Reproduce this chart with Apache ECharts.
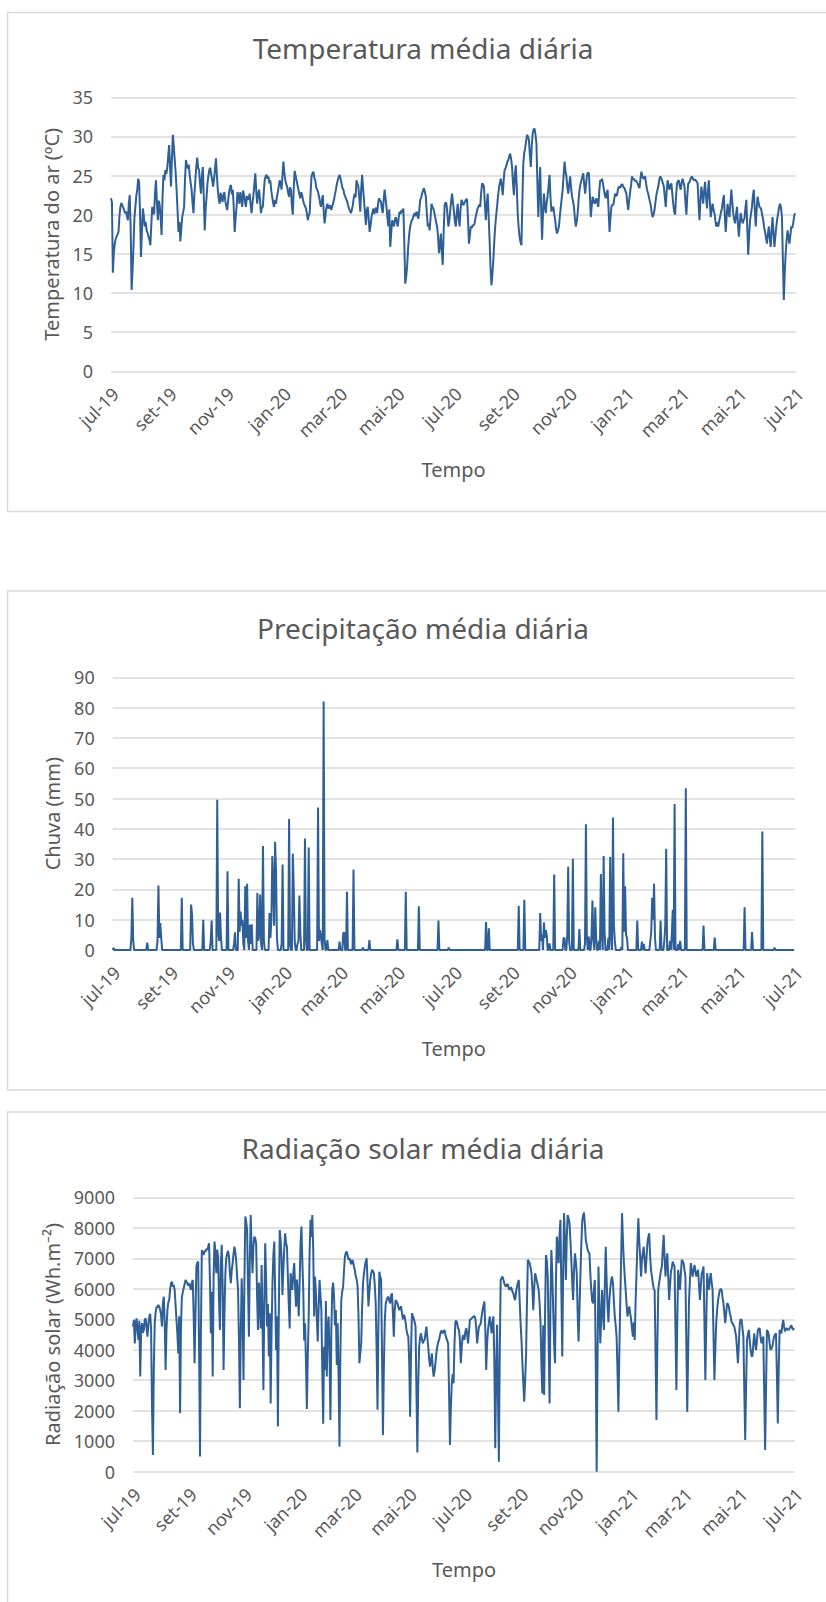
<!DOCTYPE html>
<html>
<head>
<meta charset="utf-8">
<title>Temperatura, precipitação e radiação solar médias diárias</title>
<script src="https://cdn.jsdelivr.net/npm/echarts@6/dist/echarts.min.js"></script>
<style>
  html, body { margin: 0; padding: 0; background: #ffffff; }
  #chart { width: 826px; height: 1602px; }
</style>
</head>
<body>
<div id="chart"></div>
<script>
// Axis ticks: one label every two months
const tickDates = ['2019-07-01', '2019-09-01', '2019-11-01', '2020-01-01', '2020-03-01', '2020-05-01',
  '2020-07-01', '2020-09-01', '2020-11-01', '2021-01-01', '2021-03-01', '2021-05-01', '2021-07-01'];
const tickLabels = ['jul-19', 'set-19', 'nov-19', 'jan-20', 'mar-20', 'mai-20',
  'jul-20', 'set-20', 'nov-20', 'jan-21', 'mar-21', 'mai-21', 'jul-21'];

// First day of every daily series
const firstDay = '2019-07-01';

// Daily mean air temperature (ºC), 2019-07-01 .. 2021-07-01
const temperature = [
  22.1, 21.6, 12.6, 15.1, 16.3, 16.9, 17.2, 17.5, 17.8, 19.8, 21.0, 21.5, 21.2, 20.9, 20.6, 20.2, 20.4, 19.9, 19.3, 21.4,
  22.5, 18.2, 10.4, 12.9, 16.0, 19.6, 21.0, 22.4, 23.2, 24.6, 24.2, 20.1, 14.6, 17.9, 20.8, 19.9, 18.5, 19.1, 18.0, 17.7,
  17.2, 16.8, 16.1, 18.7, 21.0, 20.1, 20.2, 22.8, 24.4, 21.6, 19.3, 21.8, 21.2, 19.6, 17.4, 22.3, 25.1, 24.4, 25.7, 25.2,
  25.9, 27.4, 28.9, 26.2, 23.6, 27.1, 30.2, 28.8, 27.0, 25.4, 23.2, 20.6, 17.8, 19.1, 16.6, 18.2, 19.7, 20.3, 21.0, 24.6,
  27.0, 26.3, 25.9, 26.4, 25.0, 24.1, 23.2, 21.5, 20.2, 22.6, 24.4, 26.1, 27.3, 26.0, 25.7, 24.0, 22.7, 24.8, 26.1, 22.4,
  18.0, 20.7, 22.3, 24.1, 25.0, 25.8, 26.0, 25.1, 24.4, 23.6, 24.6, 25.9, 27.2, 25.0, 23.2, 22.0, 21.4, 22.8, 22.3, 21.6,
  22.5, 22.9, 21.7, 21.1, 20.6, 21.8, 22.9, 23.5, 23.8, 22.6, 23.2, 20.9, 17.8, 19.6, 21.0, 22.9, 22.3, 21.4, 22.9, 22.2,
  21.0, 23.1, 22.5, 21.6, 21.0, 22.4, 21.9, 22.1, 22.7, 21.3, 20.2, 21.5, 22.5, 23.9, 25.3, 23.0, 21.4, 22.6, 23.2, 21.9,
  20.2, 20.9, 21.0, 22.8, 24.4, 24.9, 25.1, 24.6, 24.9, 24.0, 24.4, 23.1, 22.3, 21.5, 21.0, 21.9, 21.4, 22.2, 22.9, 23.6,
  24.4, 24.0, 23.2, 25.1, 26.8, 25.3, 24.4, 23.9, 23.6, 22.8, 22.3, 23.5, 23.2, 21.2, 20.0, 23.4, 25.6, 25.0, 24.4, 23.8,
  23.2, 22.6, 22.1, 22.9, 22.5, 21.8, 21.4, 21.1, 20.8, 20.2, 19.3, 19.9, 20.2, 22.8, 24.9, 25.3, 25.5, 24.7, 24.4, 23.5,
  23.2, 22.9, 22.3, 21.6, 21.0, 21.8, 22.5, 20.4, 18.9, 20.1, 21.0, 21.4, 20.8, 21.0, 21.2, 20.6, 21.0, 21.5, 21.9, 22.6,
  23.2, 23.9, 24.4, 24.8, 25.1, 24.6, 24.0, 23.4, 23.2, 22.6, 22.3, 22.0, 21.7, 21.2, 20.8, 20.5, 20.2, 20.6, 21.2, 22.1,
  22.7, 22.2, 24.4, 24.0, 23.6, 22.1, 20.4, 23.3, 25.1, 23.4, 21.9, 20.2, 18.7, 20.6, 21.0, 19.4, 17.8, 18.6, 19.7, 20.3,
  20.8, 20.1, 20.6, 20.9, 20.2, 21.4, 22.1, 21.8, 21.7, 20.8, 20.2, 21.9, 23.2, 22.1, 21.0, 19.6, 18.5, 20.7, 15.9, 17.6,
  19.3, 18.8, 18.5, 19.4, 19.7, 19.0, 18.5, 19.6, 20.4, 20.1, 20.6, 20.3, 20.8, 16.4, 11.2, 12.1, 13.4, 15.6, 17.2, 18.3,
  18.9, 19.3, 19.5, 19.9, 20.2, 19.8, 20.4, 20.0, 19.5, 20.6, 21.9, 22.2, 22.7, 23.1, 23.4, 22.9, 22.3, 20.3, 18.5, 18.9,
  18.0, 19.6, 21.4, 21.0, 20.8, 20.3, 19.7, 19.0, 18.5, 17.2, 15.1, 16.0, 17.6, 15.3, 13.6, 17.8, 21.2, 21.6, 21.4, 20.1,
  18.5, 19.2, 20.5, 21.8, 22.7, 21.5, 20.4, 19.1, 18.5, 20.2, 21.4, 19.6, 18.5, 20.6, 21.9, 21.6, 21.2, 21.5, 21.7, 22.0,
  21.9, 19.4, 16.3, 17.4, 18.5, 18.3, 18.7, 18.6, 18.9, 19.6, 20.2, 20.7, 21.0, 21.3, 21.0, 22.8, 24.0, 23.9, 23.6, 21.2,
  19.3, 21.4, 22.7, 19.8, 16.8, 13.2, 11.0, 12.4, 14.2, 16.6, 18.5, 19.9, 21.0, 22.4, 23.4, 24.1, 24.6, 23.7, 22.5, 24.3,
  25.7, 25.9, 26.3, 26.8, 27.0, 27.5, 27.8, 27.1, 26.1, 24.0, 22.5, 25.1, 26.3, 23.7, 20.2, 18.4, 17.2, 16.5, 16.1, 21.8,
  26.6, 27.9, 28.5, 29.4, 30.2, 30.0, 29.5, 27.6, 26.1, 28.8, 30.4, 30.9, 31.0, 30.2, 29.1, 24.2, 19.7, 23.3, 26.1, 21.0,
  16.8, 20.1, 22.7, 21.1, 20.2, 21.6, 22.5, 23.7, 25.1, 22.2, 20.4, 20.9, 21.0, 20.1, 19.3, 18.2, 17.6, 18.0, 18.5, 19.8,
  21.0, 22.1, 23.2, 25.0, 26.8, 25.6, 24.9, 23.5, 22.7, 23.9, 24.9, 23.4, 22.3, 21.8, 21.0, 19.6, 18.5, 19.1, 20.2, 21.9,
  23.2, 23.9, 24.4, 24.9, 25.3, 23.8, 22.7, 24.0, 25.1, 25.4, 25.3, 22.6, 19.7, 21.1, 22.3, 21.9, 21.4, 21.6, 22.1, 21.6,
  21.0, 22.9, 24.4, 24.3, 24.6, 24.0, 23.2, 22.5, 22.1, 22.8, 23.2, 20.6, 17.8, 19.6, 21.0, 21.3, 21.2, 22.0, 22.7, 22.4,
  22.5, 23.2, 23.6, 23.4, 23.6, 23.9, 23.8, 23.5, 23.4, 23.0, 22.7, 21.5, 20.6, 21.9, 22.9, 23.8, 24.9, 24.5, 24.6, 24.3,
  24.4, 24.2, 24.0, 23.6, 23.4, 24.6, 25.5, 24.9, 24.6, 24.7, 24.9, 24.0, 23.2, 22.8, 22.3, 21.7, 21.2, 20.3, 19.7, 20.0,
  20.6, 21.6, 22.5, 23.1, 23.6, 24.4, 24.9, 24.7, 24.4, 24.0, 23.6, 22.2, 21.0, 23.0, 24.4, 23.7, 23.2, 23.8, 24.0, 22.7,
  21.4, 20.4, 20.0, 22.3, 24.0, 24.3, 24.4, 23.6, 23.2, 24.1, 24.6, 24.1, 23.6, 21.6, 20.0, 22.4, 24.0, 24.1, 24.4, 24.7,
  24.9, 24.6, 24.4, 24.5, 24.4, 24.2, 24.0, 21.5, 19.3, 21.8, 23.6, 22.6, 21.4, 23.1, 24.2, 22.3, 20.8, 22.9, 24.4, 21.8,
  19.7, 20.6, 21.4, 20.6, 20.2, 19.2, 18.5, 19.0, 18.5, 19.2, 19.7, 20.4, 20.8, 21.8, 22.5, 19.9, 17.8, 19.8, 21.4, 20.4,
  19.7, 21.5, 23.2, 21.6, 20.2, 19.4, 18.9, 20.0, 21.0, 18.9, 17.2, 18.8, 20.2, 19.5, 18.9, 19.3, 19.5, 20.8, 21.9, 18.3,
  14.9, 17.4, 19.3, 20.1, 21.0, 22.4, 23.2, 20.7, 18.5, 20.6, 22.3, 21.6, 21.0, 20.9, 20.6, 19.9, 19.3, 18.4, 17.8, 17.0,
  16.3, 17.6, 18.5, 17.0, 15.9, 18.1, 19.7, 17.6, 15.9, 17.3, 18.5, 19.5, 20.2, 21.0, 21.4, 20.9, 19.7, 14.2, 9.1, 12.6,
  15.1, 16.8, 18.0, 17.1, 16.3, 17.4, 18.5, 18.3, 18.9, 19.8, 20.2
];

// Daily rainfall (mm) on the days with rain; every other day of the period had none
const rainLastDay = '2021-06-30';
const rainDates = [
  '2019-07-02', '2019-07-21', '2019-07-22', '2019-07-23', '2019-08-07', '2019-08-18', '2019-08-19', '2019-08-20',
  '2019-08-21', '2019-08-22', '2019-09-13', '2019-09-23', '2019-09-24', '2019-09-25', '2019-10-06', '2019-10-14',
  '2019-10-15', '2019-10-21', '2019-10-22', '2019-10-23', '2019-10-24', '2019-10-25', '2019-11-01', '2019-11-08',
  '2019-11-09', '2019-11-13', '2019-11-14', '2019-11-15', '2019-11-16', '2019-11-17', '2019-11-18', '2019-11-20',
  '2019-11-21', '2019-11-22', '2019-11-23', '2019-11-25', '2019-11-26', '2019-11-27', '2019-12-03', '2019-12-04',
  '2019-12-05', '2019-12-06', '2019-12-07', '2019-12-09', '2019-12-10', '2019-12-16', '2019-12-17', '2019-12-18',
  '2019-12-19', '2019-12-20', '2019-12-21', '2019-12-22', '2019-12-23', '2019-12-24', '2019-12-29', '2019-12-30',
  '2020-01-06', '2020-01-07', '2020-01-10', '2020-01-11', '2020-01-12', '2020-01-15', '2020-01-16', '2020-01-17',
  '2020-01-18', '2020-01-23', '2020-01-24', '2020-01-27', '2020-02-06', '2020-02-07', '2020-02-08', '2020-02-09',
  '2020-02-10', '2020-02-12', '2020-02-13', '2020-02-16', '2020-02-29', '2020-03-04', '2020-03-05', '2020-03-08',
  '2020-03-15', '2020-03-25', '2020-04-01', '2020-05-01', '2020-05-10', '2020-05-24', '2020-06-14', '2020-06-25',
  '2020-08-04', '2020-08-07', '2020-09-08', '2020-09-14', '2020-10-01', '2020-10-02', '2020-10-03', '2020-10-05',
  '2020-10-06', '2020-10-07', '2020-10-08', '2020-10-11', '2020-10-16', '2020-10-26', '2020-10-27', '2020-10-30',
  '2020-10-31', '2020-11-01', '2020-11-05', '2020-11-12', '2020-11-18', '2020-11-19', '2020-11-20', '2020-11-22',
  '2020-11-25', '2020-11-26', '2020-11-27', '2020-11-29', '2020-11-30', '2020-12-03', '2020-12-05', '2020-12-06',
  '2020-12-08', '2020-12-09', '2020-12-13', '2020-12-15', '2020-12-16', '2020-12-18', '2020-12-19', '2020-12-20',
  '2020-12-27', '2020-12-29', '2020-12-30', '2020-12-31', '2021-01-01', '2021-01-02', '2021-01-13', '2021-01-18',
  '2021-01-20', '2021-01-27', '2021-01-28', '2021-01-29', '2021-01-30', '2021-01-31', '2021-02-01', '2021-02-07',
  '2021-02-11', '2021-02-12', '2021-02-13', '2021-02-17', '2021-02-19', '2021-02-20', '2021-02-22', '2021-02-26',
  '2021-02-28', '2021-03-06', '2021-03-25', '2021-04-06', '2021-05-08', '2021-05-16', '2021-05-27', '2021-06-09'
];
const rainMm = [
  0.7, 4, 17.2, 3, 2.4, 3, 21.3, 4,
  8.9, 4, 17.2, 15, 11.6, 2, 10, 3,
  9.7, 49.6, 6, 3, 12.4, 4, 26, 2,
  5.8, 23.5, 6, 12.7, 8, 10, 2, 21,
  4, 21.9, 3, 8.3, 2, 8.5, 18.8, 3,
  5, 18.3, 2, 34.3, 3, 12.2, 4, 10,
  31, 21, 8, 35.7, 26, 4, 2, 28.2,
  43.2, 2, 31.8, 20, 3, 2, 3, 18,
  6, 36.8, 4, 33.8, 47, 3, 6.6, 5,
  2, 82, 3.5, 3.3, 2.8, 5.5, 5.8, 19.2,
  26.6, 0.8, 3.3, 3.5, 19.2, 14.4, 9.7, 0.8,
  9.2, 7.2, 14.6, 16.6, 12.2, 3, 5, 9.1,
  4, 6.6, 5, 2.2, 24.9, 3.9, 4, 5,
  27.5, 3, 30.1, 6.9, 2, 41.5, 4.4, 4.4,
  5, 16.3, 3, 14.1, 4, 3, 25.1, 5,
  31, 6, 4, 30.8, 5, 43.7, 8, 3,
  1, 31.9, 6, 21, 5, 4, 9.7, 2.8,
  2, 3, 6, 17.2, 10, 21.9, 4, 9.7,
  3, 8, 33.4, 3, 5, 13.3, 48.2, 2,
  3, 53.4, 8.1, 4.1, 14.1, 5.9, 39.1, 0.8
];

// Daily mean solar radiation (Wh.m-2), 2019-07-01 .. 2021-07-01
const radiation = [
  4760, 4980, 4210, 4890, 5030, 4600, 4320, 4950, 3120, 4700, 4870, 4560, 4650, 4980, 5030, 4720, 4430, 4850, 5090, 5180,
  4650, 2100, 550, 3400, 4870, 5230, 5410, 5380, 5470, 5420, 5300, 5150, 4760, 5520, 5740, 4900, 3340, 4680, 5300, 5560,
  5630, 5980, 6180, 6230, 6070, 6120, 5960, 5480, 4980, 4520, 3880, 5100, 1920, 4800, 5740, 5890, 6020, 6150, 6290, 6230,
  6180, 6100, 6180, 6070, 5960, 6200, 6290, 5100, 3560, 5200, 6730, 6850, 6890, 3900, 500, 4600, 7270, 7180, 7110, 7240,
  7220, 7310, 7270, 7380, 7490, 6200, 4540, 5900, 3120, 6400, 7550, 7200, 6510, 7280, 7050, 5600, 4650, 6800, 7440, 6100,
  3340, 5200, 6510, 7000, 7160, 7240, 7050, 6500, 6180, 6600, 6840, 7150, 7380, 7200, 6890, 6400, 5960, 4300, 2080, 4500,
  6340, 5300, 3010, 6100, 8370, 8200, 7930, 6100, 4430, 6900, 8420, 7300, 6510, 7400, 7710, 7650, 7490, 5800, 4650, 6200,
  5630, 4700, 6780, 4900, 2680, 5600, 7490, 6300, 4760, 5500, 3780, 5200, 2240, 4600, 6180, 7100, 7550, 5800, 3990, 5100,
  1480, 5200, 7930, 7600, 7050, 5800, 6620, 7300, 7820, 7500, 7380, 6400, 5520, 4700, 6510, 6200, 5960, 6500, 6840, 6100,
  5410, 6300, 5850, 5100, 6180, 7500, 8040, 6900, 5960, 4300, 4870, 3600, 2060, 3800, 5090, 7200, 8260, 7700, 8420, 7300,
  5090, 6400, 5850, 5000, 4270, 5400, 6290, 5800, 5300, 3300, 1570, 4100, 3340, 5600, 3120, 4700, 5090, 3900, 1700, 4600,
  5960, 6200, 5740, 4800, 5300, 3500, 4870, 3100, 820, 3900, 5630, 5900, 6070, 6600, 7050, 7180, 7220, 7100, 6950, 7010,
  6890, 6800, 6950, 6880, 6730, 6600, 6400, 6300, 6070, 5100, 3560, 3900, 4210, 5400, 6180, 6500, 6730, 6900, 7000, 6200,
  5420, 5900, 6290, 6500, 6620, 6580, 6510, 6100, 5520, 4000, 2030, 4800, 6560, 6400, 6290, 3800, 1200, 3400, 4920, 5500,
  5630, 5700, 5740, 5600, 5520, 5780, 5850, 5200, 4430, 5300, 5630, 5580, 5520, 5400, 5300, 5380, 5420, 5200, 5000, 5150,
  5090, 4900, 4650, 4500, 4430, 3600, 1800, 3900, 5200, 5100, 5030, 4900, 4760, 2600, 630, 2900, 4100, 4400, 4540, 4350,
  4210, 4300, 4320, 4550, 4760, 4400, 4100, 3700, 3450, 3650, 3880, 3400, 3120, 3300, 3560, 3900, 4100, 4250, 4320, 4480,
  4600, 4620, 4540, 4600, 4650, 4500, 4380, 4300, 4210, 2600, 880, 2100, 2900, 3200, 2900, 4200, 4920, 4950, 4870, 4700,
  4650, 4300, 3560, 4100, 4430, 4480, 4320, 4600, 4710, 4500, 4210, 4600, 4980, 5000, 5030, 5060, 5090, 5100, 5030, 4700,
  4210, 4500, 4760, 4800, 4870, 5100, 5300, 5450, 5580, 4700, 3340, 4200, 4650, 4900, 5090, 4800, 4540, 4900, 5090, 3600,
  770, 3200, 4820, 2500, 330, 4000, 6290, 6350, 6400, 6300, 6180, 6100, 6070, 6150, 6130, 6000, 5960, 6050, 6020, 5900,
  5850, 5700, 5630, 5900, 6070, 6200, 6290, 5600, 4870, 4300, 3560, 2900, 2300, 3000, 3780, 5500, 6950, 6900, 6840, 6700,
  6510, 6000, 5300, 6000, 6510, 6400, 6240, 6100, 5960, 5500, 4870, 3500, 2570, 4800, 2520, 5200, 7110, 6900, 6400, 4200,
  2240, 5600, 7270, 6500, 5310, 4200, 3560, 6200, 7710, 7300, 6840, 7800, 8260, 5900, 3780, 6600, 8480, 7600, 6290, 7700,
  8420, 8300, 8150, 7600, 6950, 6200, 5630, 6600, 7160, 6900, 6510, 5200, 4270, 5300, 6400, 7400, 8200, 8400, 8500, 8100,
  7600, 7450, 7280, 7200, 7160, 6500, 5960, 5600, 5520, 6000, 6290, 3500, 0, 3800, 6730, 5500, 4210, 5000, 5960, 5200,
  4650, 6100, 7380, 6300, 5420, 4900, 5630, 6000, 6290, 6400, 6180, 5600, 5090, 4800, 4430, 3300, 1970, 3900, 5520, 7000,
  8480, 7600, 6900, 6400, 5960, 5500, 5090, 5300, 5420, 5200, 5000, 4700, 4430, 4900, 4320, 5600, 6510, 7500, 8310, 7600,
  7050, 6400, 6950, 7200, 7380, 6900, 6500, 7000, 7490, 7700, 7820, 7100, 6620, 6400, 6180, 6000, 5960, 3900, 1700, 4100,
  5960, 6200, 6400, 6600, 6730, 7300, 7760, 7000, 6400, 6900, 7160, 6400, 5630, 6100, 6560, 6700, 6890, 6800, 6730, 4700,
  2680, 4900, 6620, 6300, 5960, 6500, 6950, 6900, 6840, 6600, 6400, 4200, 1970, 3900, 5630, 6300, 6840, 6600, 6400, 6600,
  6780, 6600, 6400, 6500, 6620, 6100, 5630, 6100, 6510, 6600, 6730, 4900, 3010, 4800, 6510, 6200, 5960, 6300, 6510, 6200,
  5960, 4500, 3010, 4000, 4870, 5300, 5630, 5800, 5960, 6000, 5960, 5700, 5520, 5200, 4870, 5200, 5520, 5500, 5410, 5200,
  5090, 4900, 4870, 4800, 4760, 4600, 4430, 4000, 3560, 4200, 4870, 5000, 4980, 4700, 4430, 2700, 1040, 2800, 4320, 4500,
  4650, 4300, 3990, 3800, 3780, 4200, 4540, 4200, 3990, 4300, 4650, 4700, 4700, 4400, 4210, 4350, 4430, 2600, 710, 2700,
  4650, 4600, 4490, 4200, 3990, 4050, 4100, 4300, 4430, 4500, 4540, 3200, 1580, 3300, 4650, 4600, 4540, 4800, 4980, 4750,
  4600, 4680, 4700, 4660, 4650, 4700, 4760, 4800, 4700, 4650, 4710
];

// ---- helpers ----
function toTime(str) {
  const [y, m, d] = str.split('-').map(Number);
  return new Date(y, m - 1, d).getTime();
}
function dailySeries(values, first) {
  const [y, m, d] = first.split('-').map(Number);
  return values.map((v, i) => [new Date(y, m - 1, d + i).getTime(), v]);
}
function dailyRain(dates, amounts, first, last) {
  const byDay = new Map(dates.map((s, i) => [toTime(s), amounts[i]]));
  const out = [];
  const [y, m, d] = first.split('-').map(Number);
  const end = toTime(last);
  for (let k = 0; ; k++) {
    const t = new Date(y, m - 1, d + k).getTime();
    if (t > end) break;
    out.push([t, byDay.has(t) ? byDay.get(t) : 0]);
  }
  return out;
}

const tickTimes = tickDates.map(toTime);
const axisStart = tickTimes[0];
const axisEnd = tickTimes[tickTimes.length - 1];
function monthLabel(v) {
  for (let i = 0; i < tickTimes.length; i++) {
    if (Math.abs(tickTimes[i] - v) < 43200000) return tickLabels[i];
  }
  return '';
}

// ---- styling ----
const FONT = '"Noto Sans", "Open Sans", sans-serif';
const TEXT = '#595959';
const LINE = '#2e5f96';
const GRID = '#d9d9d9';

const panels = [
  {
    title: 'Temperatura média diária', titleTop: 34, yName: 'Temperatura do ar (ºC)',
    grid: { left: 111, top: 97.3, width: 685, height: 274 },
    max: 35, interval: 5, yNameGap: 49,
    box: { y: 12.5, height: 499 },
    data: dailySeries(temperature, firstDay)
  },
  {
    title: 'Precipitação média diária', titleTop: 614, yName: 'Chuva (mm)',
    grid: { left: 112.7, top: 677.3, width: 682.3, height: 272.7 },
    max: 90, interval: 10, yNameGap: 50,
    box: { y: 591, height: 499 },
    data: dailyRain(rainDates, rainMm, firstDay, rainLastDay)
  },
  {
    title: 'Radiação solar média diária', titleTop: 1134, yName: 'Radiação solar (Wh.m⁻²)',
    grid: { left: 133, top: 1197.3, width: 662, height: 274.4 },
    max: 9000, interval: 1000, yNameGap: 70,
    box: { y: 1112, height: 520 },
    data: dailySeries(radiation, firstDay)
  }
];

const option = {
  animation: false,
  backgroundColor: '#ffffff',
  textStyle: { fontFamily: FONT },
  title: panels.map(p => ({
    text: p.title,
    left: 423,
    top: p.titleTop,
    padding: 0,
    textAlign: 'center',
    textStyle: { fontFamily: FONT, fontSize: 28, fontWeight: 'normal', color: TEXT }
  })),
  graphic: panels.map(p => ({
    type: 'rect',
    silent: true,
    z: -10,
    shape: { x: 7.5, y: p.box.y, width: 860, height: p.box.height },
    style: { fill: 'none', stroke: GRID, lineWidth: 1.5 }
  })),
  grid: panels.map(p => Object.assign({ containLabel: false }, p.grid)),
  // Dates are placed on a numeric (millisecond) axis so the two-monthly ticks can be set explicitly
  xAxis: panels.map((p, i) => ({
    type: 'value',
    gridIndex: i,
    min: axisStart,
    max: axisEnd,
    axisLine: { show: false },
    axisTick: { show: false },
    splitLine: { show: false },
    axisLabel: {
      customValues: tickTimes,
      formatter: monthLabel,
      rotate: 45,
      margin: 15,
      verticalAlign: 'top',
      lineHeight: 12,
      fontSize: 18,
      fontFamily: FONT,
      color: TEXT,
      hideOverlap: false
    },
    name: 'Tempo',
    nameLocation: 'middle',
    nameGap: 88,
    nameTextStyle: { fontFamily: FONT, fontSize: 20, color: TEXT }
  })),
  yAxis: panels.map((p, i) => ({
    type: 'value',
    gridIndex: i,
    min: 0,
    max: p.max,
    interval: p.interval,
    axisLine: { show: false },
    axisTick: { show: false },
    splitLine: { lineStyle: { color: GRID, width: 1.5 } },
    axisLabel: { fontFamily: FONT, fontSize: 18, color: TEXT, margin: 18, formatter: v => String(v) },
    name: p.yName,
    nameLocation: 'middle',
    nameRotate: 90,
    nameGap: p.yNameGap,
    nameTextStyle: { fontFamily: FONT, fontSize: 20, color: TEXT }
  })),
  series: panels.map((p, i) => ({
    type: 'line',
    xAxisIndex: i,
    yAxisIndex: i,
    data: p.data,
    symbol: 'none',
    showSymbol: false,
    smooth: false,
    lineStyle: { color: LINE, width: 2 },
    itemStyle: { color: LINE }
  }))
};

const chart = echarts.init(document.getElementById('chart'), null, { renderer: 'svg' });
chart.setOption(option);
</script>
</body>
</html>
